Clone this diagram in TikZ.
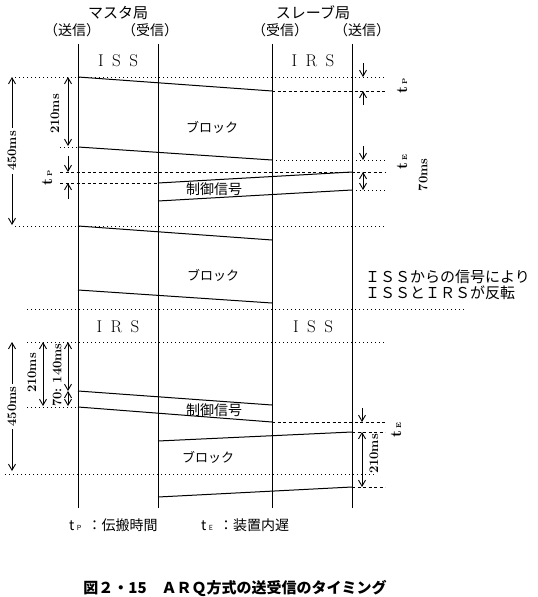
\documentclass[tikz,border=0pt]{standalone}
\usepackage{fontspec}
\usepackage{tikz}
\usetikzlibrary{arrows.meta,positioning,calc}
\newfontfamily\jfont{Noto Sans CJK JP}

\begin{document}
\begin{tikzpicture}[
    x=1pt, y=-1pt,
    >={Straight Barb[length=6pt, width=7pt, line width=0.9pt]},
    timeline/.style={line width=0.9pt},
    signal/.style={line width=1pt},
    dotline/.style={line width=0.9pt, dash pattern=on 1.2pt off 2.8pt},
    dashline/.style={line width=0.9pt, dash pattern=on 3pt off 2.5pt},
    dimline/.style={line width=0.8pt},
    numtext/.style={font=\bfseries\fontsize{13}{15}\selectfont, inner sep=1pt},
    tstext/.style={font=\bfseries\fontsize{16}{18}\selectfont, inner sep=1pt},
    jtext/.style={font=\jfont\fontsize{14}{16}\selectfont, inner sep=1pt},
    stntext/.style={font=\fontsize{17}{19}\selectfont, inner sep=1pt},
    captext/.style={font=\jfont\bfseries\fontsize{15}{17}\selectfont, inner sep=1pt}
]
\useasboundingbox (0,0) rectangle (538,597);

% Station headers
\node[jtext, font=\jfont\fontsize{15}{17}\selectfont] (master) at (118,13) {マスタ局};
\node[jtext] (mssend) at (72,30) {（送信）};
\node[jtext] (msrecv) at (150,30) {（受信）};
\node[jtext, font=\jfont\fontsize{15}{17}\selectfont] (slave) at (313,13) {スレーブ局};
\node[jtext] (slrecv) at (280,30) {（受信）};
\node[jtext] (slsend) at (362,30) {（送信）};

% Time lines
\coordinate (mstop) at (78,44);  \coordinate (msbot) at (78,508);
\coordinate (mrtop) at (158,44); \coordinate (mrbot) at (158,508);
\coordinate (srtop) at (272,44); \coordinate (srbot) at (272,508);
\coordinate (sstop) at (352,44); \coordinate (ssbot) at (352,508);
\draw[timeline] (mstop) -- (msbot);
\draw[timeline] (mrtop) -- (mrbot);
\draw[timeline] (srtop) -- (srbot);
\draw[timeline] (sstop) -- (ssbot);

% Roles of the stations
\node[stntext] (iss1) at (118,61) {I\enspace S\enspace S};
\node[stntext] (irs1) at (313,61) {I\enspace R\enspace S};
\node[stntext] (irs2) at (118,327) {I\enspace R\enspace S};
\node[stntext] (iss2) at (313,327) {I\enspace S\enspace S};

% Block 1 (master to slave)
\coordinate (blk1tl) at (78,77);  \coordinate (blk1tr) at (272,91);
\coordinate (blk1bl) at (78,147); \coordinate (blk1br) at (272,160);
\draw[signal] (blk1tl) -- (blk1tr);
\draw[signal] (blk1bl) -- (blk1br);
\node[jtext, font=\jfont\fontsize{13}{15}\selectfont] (block1) at (212,127) {ブロック};

% Control signal 1 (slave to master)
\coordinate (ctl1tr) at (352,172); \coordinate (ctl1tl) at (158,183);
\coordinate (ctl1br) at (352,190); \coordinate (ctl1bl) at (158,201);
\draw[signal] (ctl1tr) -- (ctl1tl);
\draw[signal] (ctl1br) -- (ctl1bl);
\node[jtext] (ctl1) at (214,189) {制御信号};

% Block 2 (master to slave)
\coordinate (blk2tl) at (78,226); \coordinate (blk2tr) at (272,240);
\coordinate (blk2bl) at (78,290); \coordinate (blk2br) at (272,303);
\draw[signal] (blk2tl) -- (blk2tr);
\draw[signal] (blk2bl) -- (blk2br);
\node[jtext, font=\jfont\fontsize{13}{15}\selectfont] (block2) at (213,275) {ブロック};

% Control signal 2 (master to slave)
\coordinate (ctl2tl) at (78,391); \coordinate (ctl2tr) at (272,405);
\coordinate (ctl2bl) at (78,407); \coordinate (ctl2br) at (272,422);
\draw[signal] (ctl2tl) -- (ctl2tr);
\draw[signal] (ctl2bl) -- (ctl2br);
\node[jtext] (ctl2) at (214,410) {制御信号};

% Block 3 (slave to master)
\coordinate (blk3tr) at (352,432); \coordinate (blk3tl) at (158,441);
\coordinate (blk3br) at (352,487); \coordinate (blk3bl) at (158,497);
\draw[signal] (blk3tr) -- (blk3tl);
\draw[signal] (blk3br) -- (blk3bl);
\node[jtext, font=\jfont\fontsize{13}{15}\selectfont] (block3) at (208,457) {ブロック};

% Reference lines
\coordinate (r1a) at (15,77);   \coordinate (r1b) at (385,77);
\coordinate (r4b) at (385,160); \coordinate (r2b) at (385,91);
\coordinate (r3a) at (60,147);
\coordinate (r5a) at (60,172);  \coordinate (r5b) at (385,172);
\coordinate (r6a) at (60,183);  \coordinate (r7b) at (385,190);
\coordinate (r8a) at (15,226);  \coordinate (r8b) at (385,226);
\coordinate (r9a) at (27,309);  \coordinate (r9b) at (465,309);
\coordinate (r10a) at (27,342); \coordinate (r10b) at (385,342);
\coordinate (r11a) at (27,407);
\coordinate (r12b) at (385,422); \coordinate (r13b) at (385,432);
\coordinate (r14a) at (5,474);  \coordinate (r14b) at (375,474);
\coordinate (r15b) at (385,487);
\draw[dotline] (r1a) -- (r1b);
\draw[dashline] (blk1tr) -- (r2b);
\draw[dotline] (r3a) -- (blk1bl);
\draw[dotline] (blk1br) -- (r4b);
\draw[dashline] (r5a) -- (r5b);
\draw[dashline] (r6a) -- (ctl1tl);
\draw[dotline] (ctl1br) -- (r7b);
\draw[dotline] (r8a) -- (r8b);
\draw[dotline] (r9a) -- (r9b);
\draw[dotline] (r10a) -- (r10b);
\draw[dotline] (r11a) -- (ctl2bl);
\draw[dashline] (ctl2br) -- (r12b);
\draw[dashline] (blk3tr) -- (r13b);
\draw[dotline] (r14a) -- (r14b);
\draw[dashline] (blk3br) -- (r15b);

% Timing marks - upper left
\coordinate (d450a) at (12,77);  \coordinate (d450b) at (12,225);
\draw[dimline, <->] (d450a) -- (d450b)
    node[midway, numtext, rotate=90, fill=white, inner sep=3pt] (lbl450a) {450ms};
\coordinate (d210a) at (68,77);  \coordinate (d210b) at (68,146);
\draw[dimline, <->] (d210a) -- (d210b);
\node[numtext, rotate=90] (lbl210a) at (55,114) {210ms};
\coordinate (tpl1a) at (68,156); \coordinate (tpl1b) at (68,172);
\coordinate (tpl2a) at (68,199); \coordinate (tpl2b) at (68,183);
\draw[dimline, ->] (tpl1a) -- (tpl1b);
\draw[dimline, ->] (tpl2a) -- (tpl2b);
\node[tstext, rotate=90] (lbltpa) at (47,178) {t\,{\fontsize{7}{7}\selectfont P}};

% Timing marks - upper right
\coordinate (tpr1a) at (363,63);  \coordinate (tpr1b) at (363,77);
\coordinate (tpr2a) at (363,105); \coordinate (tpr2b) at (363,91);
\draw[dimline, ->] (tpr1a) -- (tpr1b);
\draw[dimline, ->] (tpr2a) -- (tpr2b);
\node[tstext, rotate=90] (lbltpb) at (402,86) {t\,{\fontsize{7}{7}\selectfont P}};
\coordinate (ter1a) at (363,146); \coordinate (ter1b) at (363,160);
\draw[dimline, ->] (ter1a) -- (ter1b);
\node[tstext, rotate=90] (lbltea) at (402,162) {t\,{\fontsize{7}{7}\selectfont E}};
\coordinate (d70a) at (363,172); \coordinate (d70b) at (363,190);
\draw[dimline, <->] (d70a) -- (d70b);
\node[numtext, rotate=90] (lbl70a) at (423,175) {70ms};

% Timing marks - lower left
\coordinate (d450c) at (12,342); \coordinate (d450d) at (12,471);
\draw[dimline, <->] (d450c) -- (d450d)
    node[midway, numtext, rotate=90, fill=white, inner sep=3pt] (lbl450b) {450ms};
\coordinate (d210c) at (43,342); \coordinate (d210d) at (43,406);
\draw[dimline, <->] (d210c) -- (d210d);
\node[numtext, rotate=90] (lbl210b) at (32,373) {210ms};
\coordinate (d140a) at (68,342); \coordinate (d140b) at (68,391);
\coordinate (d70c) at (68,406);
\draw[dimline, <->] (d140a) -- (d140b);
\draw[dimline, <->] (d140b) -- (d70c);
\node[numtext, rotate=90] (lbl140) at (57,375) {70:\ 140ms};

% Timing marks - lower right
\coordinate (ter2a) at (362,408); \coordinate (ter2b) at (362,422);
\draw[dimline, ->] (ter2a) -- (ter2b);
\node[tstext, rotate=90] (lblteb) at (396,430) {t\,{\fontsize{7}{7}\selectfont E}};
\coordinate (d210e) at (362,432); \coordinate (d210f) at (362,487);
\draw[dimline, <->] (d210e) -- (d210f);
\node[numtext, rotate=90] (lbl210c) at (374,454) {210ms};

% Note on the reversal
\node[jtext, font=\jfont\fontsize{15}{16}\selectfont, anchor=west, align=left] (note) at (364,285)
    {ＩＳＳからの信号により\\ＩＳＳとＩＲＳが反転};

% Legend
\node[jtext, anchor=west] (leg1) at (68,525) {t\,{\fontsize{7}{7}\selectfont P}\ \ ：伝搬時間};
\node[jtext, anchor=west] (leg2) at (200,525) {t\,{\fontsize{7}{7}\selectfont E}\ \ ：装置内遅};

% Caption
\node[captext] (caption) at (235,588) {図２・15　ＡＲＱ方式の送受信のタイミング};

\end{tikzpicture}
\end{document}
